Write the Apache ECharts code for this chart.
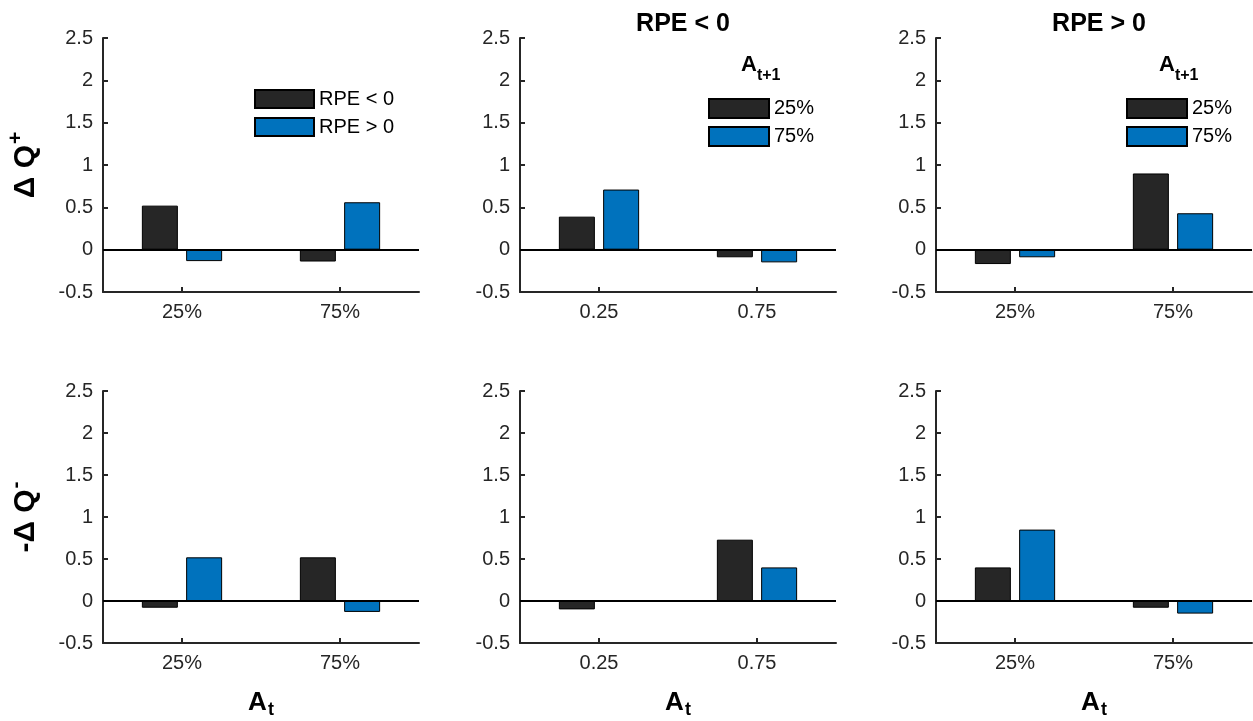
<!DOCTYPE html>
<html>
<head>
<meta charset="utf-8">
<script src="https://cdn.jsdelivr.net/npm/echarts@6/dist/echarts.min.js"></script>
<style>
html,body{margin:0;padding:0;background:#fff;}
#chart{width:1253px;height:721px;}
</style>
</head>
<body>
<div id="chart"></div>
<script>
// ---- data ----
const catsPct = ['25%', '75%'];
const catsNum = ['0.25', '0.75'];
const topTitles = ['', 'RPE < 0', 'RPE > 0'];
const leftLegendNames = ['RPE < 0', 'RPE > 0'];
const otherLegendNames = ['25%', '75%'];

// top row: ΔQ+
const topLeftRpeNeg = [0.52, -0.14];
const topLeftRpePos = [-0.135, 0.56];
const topMidNext25 = [0.39, -0.09];
const topMidNext75 = [0.71, -0.15];
const topRightNext25 = [-0.17, 0.90];
const topRightNext75 = [-0.09, 0.43];
// bottom row: -ΔQ-
const botLeftRpeNeg = [-0.08, 0.52];
const botLeftRpePos = [0.52, -0.13];
const botMidNext25 = [-0.10, 0.73];
const botMidNext75 = [-0.005, 0.40];
const botRightNext25 = [0.40, -0.08];
const botRightNext75 = [0.85, -0.15];

const yMin = -0.5, yMax = 2.5, yStep = 0.5;

// ---- styling ----
const FONT = 'Liberation Sans, Arial, Helvetica, sans-serif';
const AX = '#262626';
const C_BLACK = '#262626';
const C_BLUE = '#0072BD';

const lefts = [103, 520, 936];
const gridW = 316;
const rows = [{top: 38, height: 254}, {top: 391, height: 252}];

const panels = [
  {row: 0, col: 0, cats: catsPct, names: leftLegendNames, a: topLeftRpeNeg, b: topLeftRpePos},
  {row: 0, col: 1, cats: catsNum, names: otherLegendNames, a: topMidNext25, b: topMidNext75},
  {row: 0, col: 2, cats: catsPct, names: otherLegendNames, a: topRightNext25, b: topRightNext75},
  {row: 1, col: 0, cats: catsPct, names: leftLegendNames, a: botLeftRpeNeg, b: botLeftRpePos},
  {row: 1, col: 1, cats: catsNum, names: otherLegendNames, a: botMidNext25, b: botMidNext75},
  {row: 1, col: 2, cats: catsPct, names: otherLegendNames, a: botRightNext25, b: botRightNext75}
];

const grid = [], xAxis = [], yAxis = [], series = [];
panels.forEach((p, i) => {
  grid.push({left: lefts[p.col], width: gridW, top: rows[p.row].top, height: rows[p.row].height, containLabel: false});
  const xa = {
    type: 'category', gridIndex: i, data: p.cats, boundaryGap: true,
    axisLine: {onZero: false, lineStyle: {color: AX, width: 2}},
    axisTick: {show: true, inside: true, alignWithLabel: true, length: 5, lineStyle: {color: AX, width: 2}},
    axisLabel: {fontFamily: FONT, fontSize: 20, color: AX, margin: 10},
    splitLine: {show: false}
  };
  if (p.row === 1) {
    xa.name = '{a|A}{s|t}';
    xa.nameLocation = 'middle';
    xa.nameGap = 43;
    xa.nameTextStyle = {
      rich: {
        a: {fontFamily: FONT, fontSize: 26, fontWeight: 'bold', color: '#000'},
        s: {fontFamily: FONT, fontSize: 18, fontWeight: 'bold', color: '#000', padding: [15, 0, 0, 1]}
      }
    };
  }
  xAxis.push(xa);
  const ya = {
    type: 'value', gridIndex: i, min: yMin, max: yMax, interval: yStep,
    axisLine: {show: true, lineStyle: {color: AX, width: 2}},
    axisTick: {show: true, inside: true, length: 5, lineStyle: {color: AX, width: 2}},
    axisLabel: {fontFamily: FONT, fontSize: 20, color: AX, margin: 10},
    splitLine: {show: false}
  };
  if (p.col === 0) {
    ya.name = p.row === 0 ? '{d|Δ Q}{u|+}' : '{d|-Δ Q}{u|-}';
    ya.nameLocation = 'middle';
    ya.nameRotate = 90;
    ya.nameGap = 58;
    ya.nameTextStyle = {
      rich: {
        d: {fontFamily: FONT, fontSize: 30, fontWeight: 'bold', color: '#000'},
        u: {fontFamily: FONT, fontSize: 21, fontWeight: 'bold', color: '#000', padding: [0, 0, 18, 1]}
      }
    };
  }
  yAxis.push(ya);
  series.push({
    type: 'bar', name: p.names[0], xAxisIndex: i, yAxisIndex: i, data: p.a,
    barWidth: 36, barGap: '23%',
    itemStyle: {color: C_BLACK, borderColor: '#000', borderWidth: 1},
    markLine: {
      silent: true, symbol: 'none', label: {show: false},
      lineStyle: {color: '#000', width: 2, type: 'solid'},
      data: [{yAxis: 0}], animation: false
    },
    animation: false
  });
  series.push({
    type: 'bar', name: p.names[1], xAxisIndex: i, yAxisIndex: i, data: p.b,
    barWidth: 36, barGap: '23%',
    itemStyle: {color: C_BLUE, borderColor: '#000', borderWidth: 1},
    animation: false
  });
});

const legendBase = {
  orient: 'vertical', padding: 0, itemWidth: 60, itemHeight: 19, itemGap: 7,
  icon: 'rect', selectedMode: false,
  textStyle: {fontFamily: FONT, fontSize: 20, color: '#000', lineHeight: 19}
};
const legend = [
  Object.assign({}, legendBase, {data: leftLegendNames, left: 254, top: 89, itemWidth: 59, itemHeight: 18, itemGap: 8}),
  Object.assign({}, legendBase, {data: otherLegendNames, left: 708, top: 98}),
  Object.assign({}, legendBase, {data: otherLegendNames, left: 1126, top: 98})
];

const title = [
  {text: topTitles[1], left: 678, top: 7, textAlign: 'center',
   textStyle: {fontFamily: FONT, fontSize: 25, fontWeight: 'bold', color: '#000'}},
  {text: topTitles[2], left: 1094, top: 7, textAlign: 'center',
   textStyle: {fontFamily: FONT, fontSize: 25, fontWeight: 'bold', color: '#000'}}
];

const legendTitleRich = {
  a: {fontFamily: FONT, fontSize: 22, fontWeight: 'bold', fill: '#000'},
  s: {fontFamily: FONT, fontSize: 16, fontWeight: 'bold', fill: '#000', padding: [21, 0, 0, 0]}
};
const graphic = [
  {type: 'text', left: 741, top: 54, silent: true,
   style: {text: '{a|A}{s|t+1}', rich: legendTitleRich}},
  {type: 'text', left: 1159, top: 54, silent: true,
   style: {text: '{a|A}{s|t+1}', rich: legendTitleRich}}
];

const chart = echarts.init(document.getElementById('chart'), null, {renderer: 'canvas'});
chart.setOption({
  backgroundColor: '#fff',
  animation: false,
  title, legend, grid, xAxis, yAxis, series, graphic
});
</script>
</body>
</html>
